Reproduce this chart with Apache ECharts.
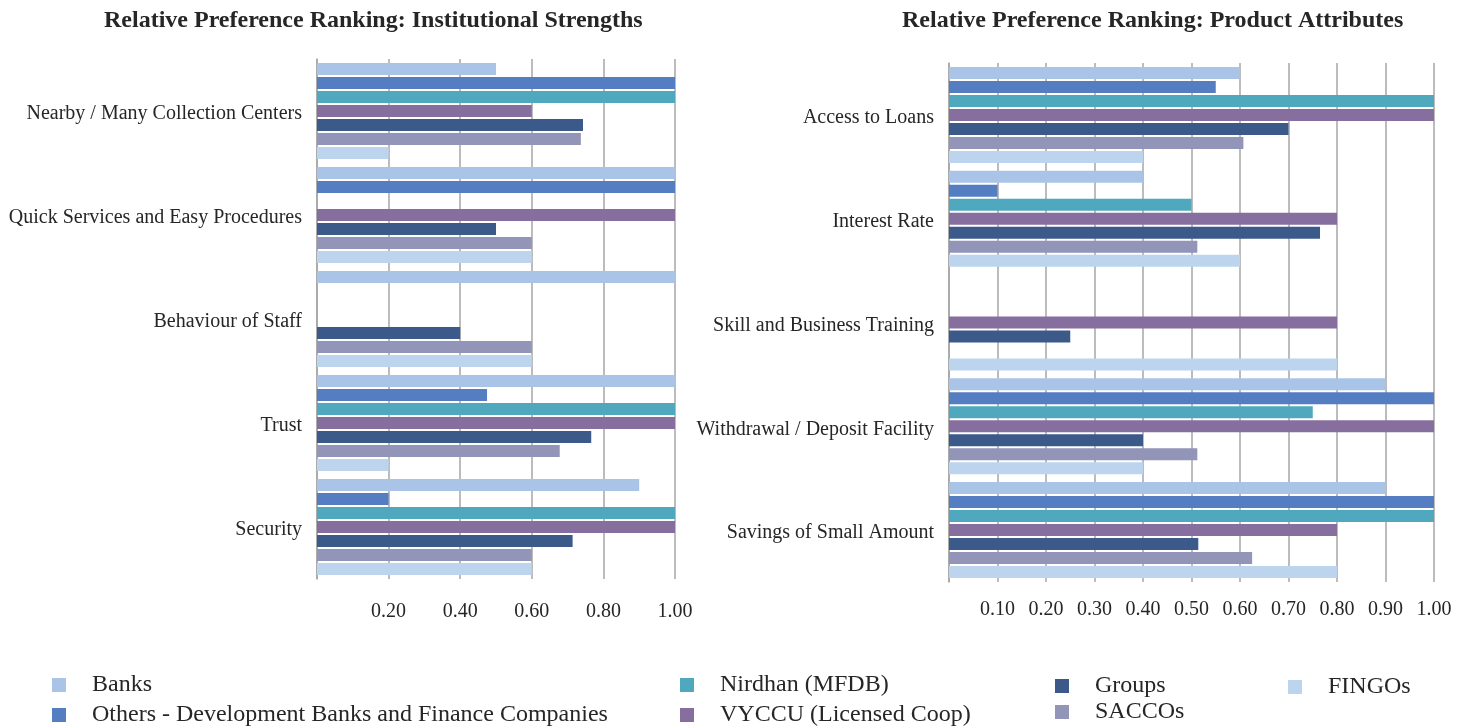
<!DOCTYPE html>
<html>
<head>
<meta charset="utf-8">
<title>Relative Preference Ranking</title>
<script src="https://cdn.jsdelivr.net/npm/echarts@6/dist/echarts.min.js"></script>
<style>
  html, body { margin: 0; padding: 0; background: #ffffff; }
  #chart { width: 1470px; height: 728px; }
</style>
</head>
<body>
<div id="chart"></div>
<script>
// Institution types (one bar per type in every category)
const seriesNames = [
  'Banks',
  'Others - Development Banks and Finance Companies',
  'Nirdhan (MFDB)',
  'VYCCU (Licensed Coop)',
  'Groups',
  'SACCOs',
  'FINGOs'
];
const seriesColors = ['#A9C4E7', '#547EC1', '#50A8BF', '#866F9F', '#3B5A8A', '#9295B8', '#BCD4EE'];

// Left panel: institutional strengths
const strengthCategories = [
  'Nearby / Many Collection Centers',
  'Quick Services and Easy Procedures',
  'Behaviour of Staff',
  'Trust',
  'Security'
];
const strengthBanks   = [0.5,   1.0, 1.0,  1.0,   0.9];
const strengthOthers  = [1.0,   1.0, null, 0.475, 0.2];
const strengthNirdhan = [1.0,   null, null, 1.0,  1.0];
const strengthVyccu   = [0.6,   1.0, null, 1.0,   1.0];
const strengthGroups  = [0.743, 0.5, 0.4,  0.766, 0.714];
const strengthSaccos  = [0.737, 0.6, 0.6,  0.678, 0.6];
const strengthFingos  = [0.2,   0.6, 0.6,  0.2,   0.6];

// Right panel: product attributes
const productCategories = [
  'Access to Loans',
  'Interest Rate',
  'Skill and Business Training',
  'Withdrawal / Deposit Facility',
  'Savings of Small Amount'
];
const productBanks   = [0.6,   0.4,   null, 0.9,   0.9];
const productOthers  = [0.55,  0.1,   null, 1.0,   1.0];
const productNirdhan = [1.0,   0.5,   null, 0.75,  1.0];
const productVyccu   = [1.0,   0.8,   0.8,  1.0,   0.8];
const productGroups  = [0.7,   0.765, 0.25, 0.4,   0.514];
const productSaccos  = [0.607, 0.512, null, 0.512, 0.625];
const productFingos  = [0.4,   0.6,   0.8,  0.4,   0.8];

const strengthValues = [strengthBanks, strengthOthers, strengthNirdhan, strengthVyccu, strengthGroups, strengthSaccos, strengthFingos];
const productValues  = [productBanks, productOthers, productNirdhan, productVyccu, productGroups, productSaccos, productFingos];

const FONT = 'Liberation Serif, Times New Roman, serif';
const TEXT = '#262626';
const GRID_LINE = '#a6a6a6';

function makeSeries(values, axisIndex) {
  return values.map((data, i) => ({
    name: seriesNames[i],
    type: 'bar',
    xAxisIndex: axisIndex,
    yAxisIndex: axisIndex,
    data: data.map(v => (v === null ? '-' : v)),
    barWidth: 12,
    barGap: '16.7%',
    itemStyle: { color: seriesColors[i] },
    emphasis: { disabled: true },
    animation: false
  }));
}

function valueAxis(gridIndex, interval, labelMargin) {
  return {
    type: 'value',
    gridIndex,
    min: 0,
    max: 1,
    interval,
    axisLine: { show: false },
    axisTick: { show: false },
    splitLine: { show: true, lineStyle: { color: GRID_LINE, width: 1.5 } },
    axisLabel: {
      margin: labelMargin,
      fontFamily: FONT,
      fontSize: 20,
      color: TEXT,
      formatter: v => (v === 0 ? '' : v.toFixed(2))
    }
  };
}

function categoryAxis(gridIndex, categories) {
  return {
    type: 'category',
    gridIndex,
    inverse: true,
    data: categories,
    axisLine: { show: true, lineStyle: { color: GRID_LINE, width: 1.5 } },
    axisTick: { show: false },
    axisLabel: {
      margin: 15,
      formatter: v => '{cat|' + v + '}',
      rich: {
        cat: {
          fontFamily: FONT,
          fontSize: 20,
          color: TEXT,
          padding: [6, 0, 0, 0]
        }
      }
    }
  };
}

// Legend entries laid out in four columns under the panels
const legendSlots = [
  { left: 52,   cy: 685 },
  { left: 52,   cy: 715 },
  { left: 680,  cy: 685 },
  { left: 680,  cy: 715 },
  { left: 1055, cy: 686 },
  { left: 1055, cy: 712 },
  { left: 1288, cy: 687 }
];
const legends = seriesNames.map((name, i) => ({
  data: [name],
  left: legendSlots[i].left,
  top: legendSlots[i].cy - 12,
  padding: 0,
  icon: 'rect',
  itemWidth: 14,
  itemHeight: 14,
  selectedMode: false,
  textStyle: {
    fontFamily: FONT,
    fontSize: 24,
    lineHeight: 24,
    color: TEXT,
    padding: [0, 0, 0, 21]
  }
}));

const chart = echarts.init(document.getElementById('chart'), null, { renderer: 'canvas' });
chart.setOption({
  backgroundColor: '#ffffff',
  animation: false,
  title: [
    {
      text: 'Relative Preference Ranking: Institutional Strengths',
      left: 104, top: 9, padding: 0,
      textStyle: { fontFamily: FONT, fontSize: 24, fontWeight: 'bold', color: TEXT }
    },
    {
      text: 'Relative Preference Ranking: Product Attributes',
      left: 902, top: 9, padding: 0,
      textStyle: { fontFamily: FONT, fontSize: 24, fontWeight: 'bold', color: TEXT }
    }
  ],
  legend: legends,
  grid: [
    { left: 317, top: 59, width: 358, height: 520 },
    { left: 949, top: 63, width: 485, height: 519 }
  ],
  xAxis: [valueAxis(0, 0.2, 23), valueAxis(1, 0.1, 18)],
  yAxis: [categoryAxis(0, strengthCategories), categoryAxis(1, productCategories)],
  series: [...makeSeries(strengthValues, 0), ...makeSeries(productValues, 1)]
});
</script>
</body>
</html>
